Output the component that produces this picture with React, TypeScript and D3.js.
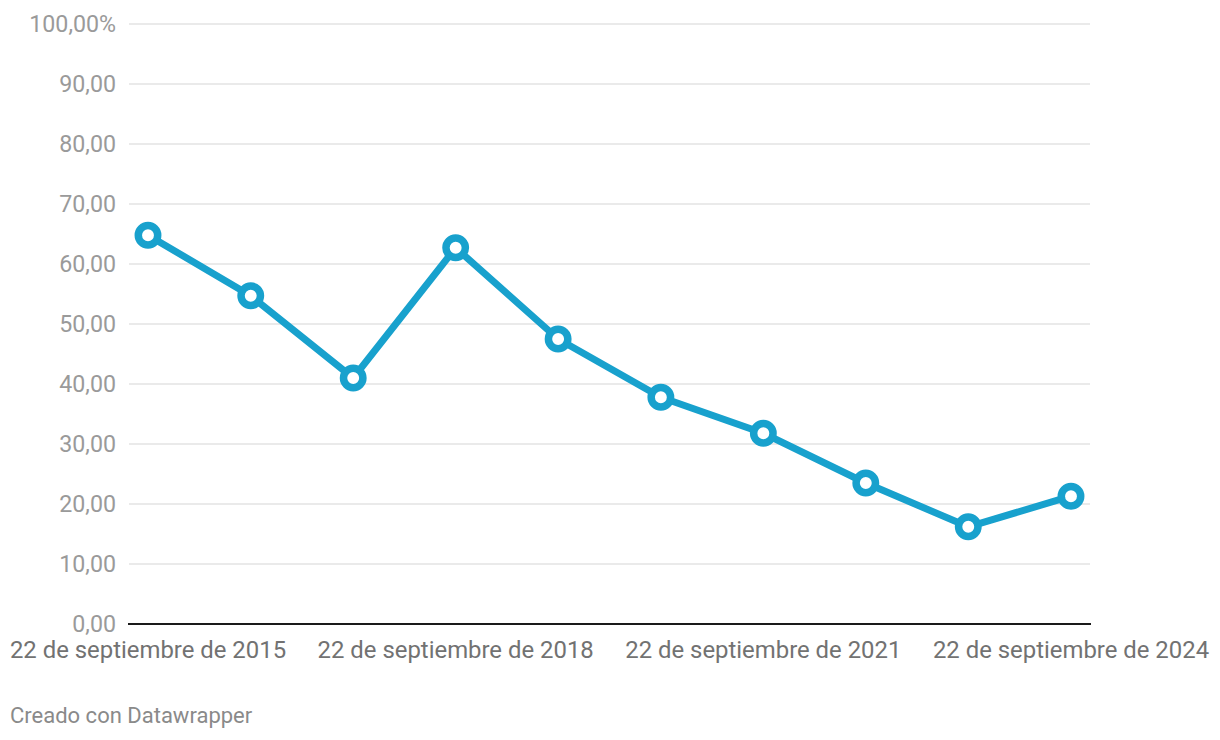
import React from "react";
import * as d3 from "d3";

const dates = [
  "2015-09-22", "2016-09-22", "2017-09-22", "2018-09-22", "2019-09-22",
  "2020-09-22", "2021-09-22", "2022-09-22", "2023-09-22", "2024-09-22",
];
const values = [64.8, 54.7, 41.0, 62.7, 47.5, 37.8, 31.8, 23.5, 16.2, 21.3];
const yTicks = [0, 10, 20, 30, 40, 50, 60, 70, 80, 90, 100];
const xTickDates = ["2015-09-22", "2018-09-22", "2021-09-22", "2024-09-22"];
const xTickLabels = [
  "22 de septiembre de 2015",
  "22 de septiembre de 2018",
  "22 de septiembre de 2021",
  "22 de septiembre de 2024",
];
const footer = "Creado con Datawrapper";

const W = 1220, H = 740;
const font = "Roboto, 'Noto Sans', sans-serif";

export default function App() {
  const parse = d3.utcParse("%Y-%m-%d");
  const data = dates.map((d, i) => ({ date: parse(d)!, value: values[i] }));
  const x = d3.scaleUtc().domain([data[0].date, data[data.length - 1].date]).range([148, 1071]);
  const y = d3.scaleLinear().domain([0, 100]).range([624, 24]);
  const line = d3.line<{ date: Date; value: number }>().x(d => x(d.date)).y(d => y(d.value));
  const fmt = (v: number) => v.toFixed(2).replace(".", ",") + (v === 100 ? "%" : "");
  return (
    <svg width={W} height={H} style={{ position: "absolute", left: 0, top: 0, background: "#fff" }} fontFamily={font}>
      {yTicks.map(t => (
        <g key={t}>
          {t !== 0 && <line x1={129} x2={1090} y1={y(t)} y2={y(t)} stroke="#e3e3e3" strokeWidth={1.5} />}
          <text x={116} y={y(t)} dy="0.36em" textAnchor="end" fontSize={23.2} fill="#9a9a9a">{fmt(t)}</text>
        </g>
      ))}
      <line x1={128} x2={1091} y1={y(0)} y2={y(0)} stroke="#1a1a1a" strokeWidth={2} />
      {xTickDates.map((d, i) => (
        <text key={d} x={x(parse(d)!)} y={658} textAnchor="middle" fontSize={23.9} fill="#727272">{xTickLabels[i]}</text>
      ))}
      <path d={line(data) || ""} fill="none" stroke="#18a1cd" strokeWidth={7} strokeLinejoin="round" strokeLinecap="round" />
      {data.map((d, i) => (
        <circle key={i} cx={x(d.date)} cy={y(d.value)} r={9.7} fill="#fff" stroke="#18a1cd" strokeWidth={7.5} />
      ))}
      <text x={10} y={723} fontSize={22} fill="#8a8a8a">{footer}</text>
    </svg>
  );
}
